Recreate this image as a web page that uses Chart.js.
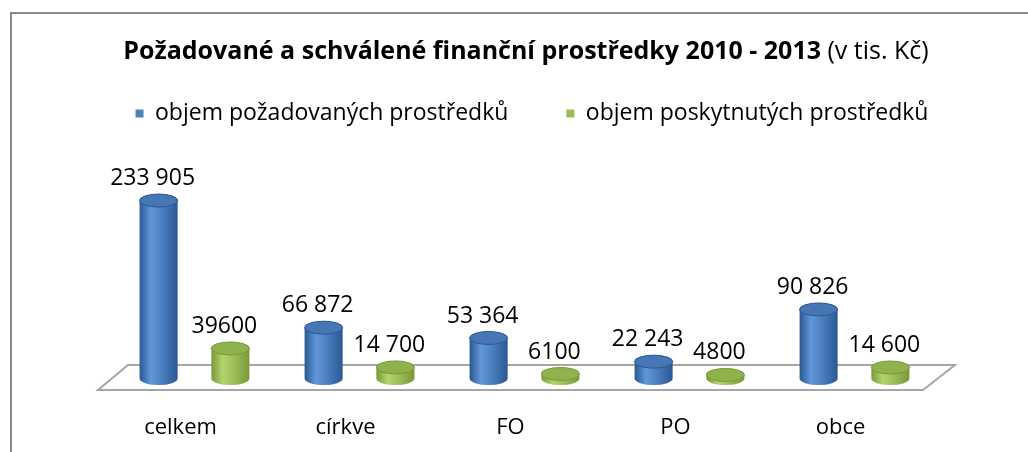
<!DOCTYPE html>
<html>
<head>
<meta charset="utf-8">
<script src="https://cdn.jsdelivr.net/npm/chart.js@4.4.1/dist/chart.umd.min.js"></script>
<style>
html, body { margin:0; padding:0; background:#fff; }
</style>
</head>
<body>
<canvas id="myChart" width="1028" height="452"></canvas>
<script>
// data z grafu (v tis. Kc)
var kategorie = ['celkem', 'církve', 'FO', 'PO', 'obce'];
var pozadovano = [233905, 66872, 53364, 22243, 90826];
var poskytnuto = [39600, 14700, 6100, 4800, 14600];
var popiskyPozadovano = ['233 905', '66 872', '53 364', '22 243', '90 826'];
var popiskyPoskytnuto = ['39600', '14 700', '6100', '4800', '14 600'];
var nazevTucne = 'Požadované a schválené finanční prostředky 2010 - 2013';
var nazevDodatek = ' (v tis. Kč)';
var popiskyRad = [popiskyPozadovano, popiskyPoskytnuto];

var FONT = '"Open Sans", sans-serif';
var barvyValcu = [
	{ tmava: '#2b5893', svetla: '#6197d8', stred: '#4a7ebf', vrch: '#4676b4' },
	{ tmava: '#7a9838', svetla: '#b2d46c', stred: '#9bbf58', vrch: '#8fb34c' }
];

// jeden valec - x stred, top vrch sloupce, base zakladna
function valec(ctx, x, top, base, w, b) {
	var rx = w / 2, ry = 6.5;
	var left = x - rx;
	var g = ctx.createLinearGradient(left, 0, left + w, 0);
	g.addColorStop(0, b.tmava);
	g.addColorStop(0.3, b.svetla);
	g.addColorStop(0.6, b.stred);
	g.addColorStop(1, b.tmava);
	ctx.beginPath();
	ctx.moveTo(left, top);
	ctx.lineTo(left, base);
	ctx.ellipse(x, base, rx, ry, 0, Math.PI, 0, true);
	ctx.lineTo(left + w, top);
	ctx.ellipse(x, top, rx, ry, 0, 0, Math.PI, true);
	ctx.closePath();
	ctx.fillStyle = g;
	ctx.fill();
	// vrchni elipsa
	ctx.beginPath();
	ctx.ellipse(x, top, rx, ry, 0, 0, Math.PI * 2);
	ctx.fillStyle = b.vrch;
	ctx.fill();
	ctx.lineWidth = 1;
	ctx.strokeStyle = b.tmava;
	ctx.stroke();
}

var ramecekANazev = {
	id: 'ramecekANazev',
	beforeDraw: function(chart) {
		var ctx = chart.ctx;
		ctx.save();
		ctx.fillStyle = '#fff';
		ctx.fillRect(0, 0, chart.width, chart.height);
		ctx.strokeStyle = '#8a8a8a';
		ctx.lineWidth = 2;
		ctx.strokeRect(11, 13, 1100, 600);
		// nazev - tucna cast + normalni cast
		ctx.textBaseline = 'middle';
		ctx.fillStyle = '#000';
		ctx.font = 'bold 25px ' + FONT;
		var w1 = ctx.measureText(nazevTucne).width;
		ctx.font = '25px ' + FONT;
		var w2 = ctx.measureText(nazevDodatek).width;
		var x0 = 526 - (w1 + w2) / 2;
		ctx.font = 'bold 25px ' + FONT;
		ctx.fillText(nazevTucne, x0, 52);
		ctx.font = '25px ' + FONT;
		ctx.fillText(nazevDodatek, x0 + w1, 52);
		ctx.restore();
	}
};

var valce = {
	id: 'valce',
	beforeDatasetsDraw: function(chart) {
		var ctx = chart.ctx;
		var a = chart.chartArea;
		var y0 = chart.scales.y.getPixelForValue(0);
		ctx.save();
		// podlaha
		ctx.beginPath();
		ctx.moveTo(a.left + 16, y0 - 13.5);
		ctx.lineTo(a.right + 18, y0 - 13.5);
		ctx.lineTo(a.right - 14, y0 + 11.5);
		ctx.lineTo(a.left - 14, y0 + 11.5);
		ctx.closePath();
		ctx.fillStyle = '#fff';
		ctx.fill();
		ctx.strokeStyle = '#a6a6a6';
		ctx.lineWidth = 2;
		ctx.stroke();
		// sloupce jako valce + popisky
		chart.data.datasets.forEach(function(ds, di) {
			var meta = chart.getDatasetMeta(di);
			meta.data.forEach(function(el, i) {
				valec(ctx, el.x, el.y, el.base, el.width, barvyValcu[di]);
			});
		});
		ctx.font = '23px ' + FONT;
		ctx.fillStyle = '#000';
		ctx.textAlign = 'center';
		ctx.textBaseline = 'middle';
		chart.data.datasets.forEach(function(ds, di) {
			var meta = chart.getDatasetMeta(di);
			meta.data.forEach(function(el, i) {
				ctx.fillText(popiskyRad[di][i], el.x - 6, el.y - 22);
			});
		});
		ctx.restore();
		return false;
	}
};

var ctx = document.getElementById('myChart').getContext('2d');
var myChart = new Chart(ctx, {
	type: 'bar',
	data: {
		labels: kategorie,
		datasets: [{
			label: 'objem požadovaných prostředků',
			data: pozadovano,
			backgroundColor: '#4f81bd',
			borderWidth: 0,
			barPercentage: 0.53,
			categoryPercentage: 0.87
		}, {
			label: 'objem poskytnutých prostředků',
			data: poskytnuto,
			backgroundColor: '#9bbb59',
			borderWidth: 0,
			barPercentage: 0.53,
			categoryPercentage: 0.87
		}]
	},
	options: {
		responsive: false,
		animation: false,
		layout: { padding: { top: 44, left: 36, right: 0, bottom: 11 } },
		plugins: {
			title: { display: false },
			tooltip: { enabled: false },
			legend: {
				display: true,
				position: 'top',
				labels: {
					boxWidth: 8,
					boxHeight: 8,
					padding: 58,
					color: '#000',
					font: { family: FONT, size: 23 }
				}
			}
		},
		scales: {
			x: {
				grid: { display: false, drawTicks: true, tickLength: 36 },
				border: { display: false },
				ticks: { padding: 0, labelOffset: -14, color: '#000', font: { family: FONT, size: 22 } }
			},
			y: {
				min: 0,
				max: 320000,
				ticks: { display: false },
				grid: { display: false },
				border: { display: false },
				afterFit: function(scale) { scale.width = 76; }
			},
			y2: {
				position: 'right',
				ticks: { display: false },
				grid: { display: false },
				border: { display: false },
				afterFit: function(scale) { scale.width = 91; }
			}
		}
	},
	plugins: [ramecekANazev, valce]
});
</script>
</body>
</html>
